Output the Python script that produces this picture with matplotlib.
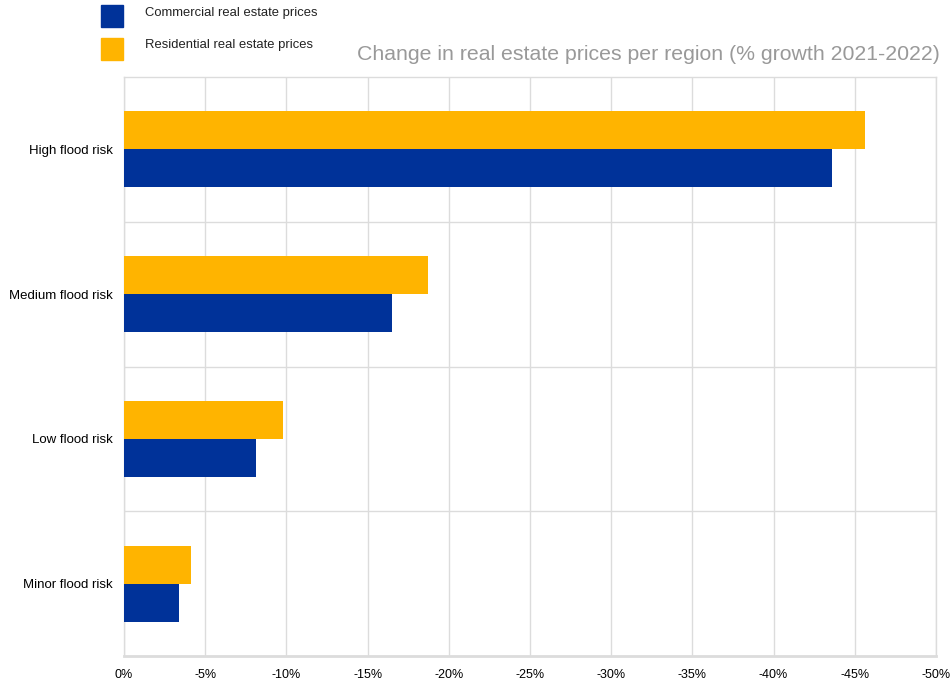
import matplotlib.pyplot as plt
from matplotlib.patches import Rectangle
import numpy as np

plt.rcParams['font.family'] = ['Liberation Sans', 'DejaVu Sans']

# data
categories = ["High flood risk", "Medium flood risk", "Low flood risk", "Minor flood risk"]
commercial = [-43.6, -16.5, -8.1, -3.4]
residential = [-45.6, -18.7, -9.8, -4.1]
x_ticks = [0, -5, -10, -15, -20, -25, -30, -35, -40, -45, -50]
x_tick_labels = ["0%", "-5%", "-10%", "-15%", "-20%", "-25%", "-30%", "-35%", "-40%", "-45%", "-50%"]

BLUE = '#003299'
YELLOW = '#FFB400'
GRID = '#dcdcdc'

fig = plt.figure(figsize=(9.53, 6.8), dpi=100)
ax = fig.add_axes([124 / 953, 24 / 680, 812 / 953, 579 / 680])

y = np.arange(len(categories))
h = 0.263
ax.barh(y - h / 2, residential, height=h, color=YELLOW, zorder=3)
ax.barh(y + h / 2, commercial, height=h, color=BLUE, zorder=3)

ax.set_xlim(0, -50)
ax.set_ylim(3.5, -0.5)
ax.set_xticks(x_ticks)
ax.set_xticklabels(x_tick_labels, fontsize=9)
ax.set_yticks(y)
ax.set_yticklabels(categories, fontsize=9.5)
ax.tick_params(length=0, pad=9)
ax.tick_params(axis='y', pad=8)

ax.grid(axis='x', color=GRID, linewidth=1, zorder=0)
for b in [0.5, 1.5, 2.5]:
    ax.axhline(b, color=GRID, linewidth=1, zorder=0)
for s in ['top', 'right', 'left']:
    ax.spines[s].set_color(GRID)
    ax.spines[s].set_linewidth(1)
ax.spines['bottom'].set_color(GRID)
ax.spines['bottom'].set_linewidth(2)

# legend
fig.patches.append(Rectangle((101 / 953, 1 - 27 / 680), 22 / 953, 22 / 680,
                             transform=fig.transFigure, color=BLUE))
fig.patches.append(Rectangle((101 / 953, 1 - 60 / 680), 22 / 953, 22 / 680,
                             transform=fig.transFigure, color=YELLOW))
fig.text(145 / 953, 1 - 13 / 680, "Commercial real estate prices", fontsize=9.4, va='center', color='#222222')
fig.text(145 / 953, 1 - 45 / 680, "Residential real estate prices", fontsize=9.4, va='center', color='#222222')

fig.text(940 / 953, 1 - 54 / 680, "Change in real estate prices per region (% growth 2021-2022)",
         fontsize=15.3, ha='right', va='center', color='#999999')

fig.savefig('out.png', dpi=100)
